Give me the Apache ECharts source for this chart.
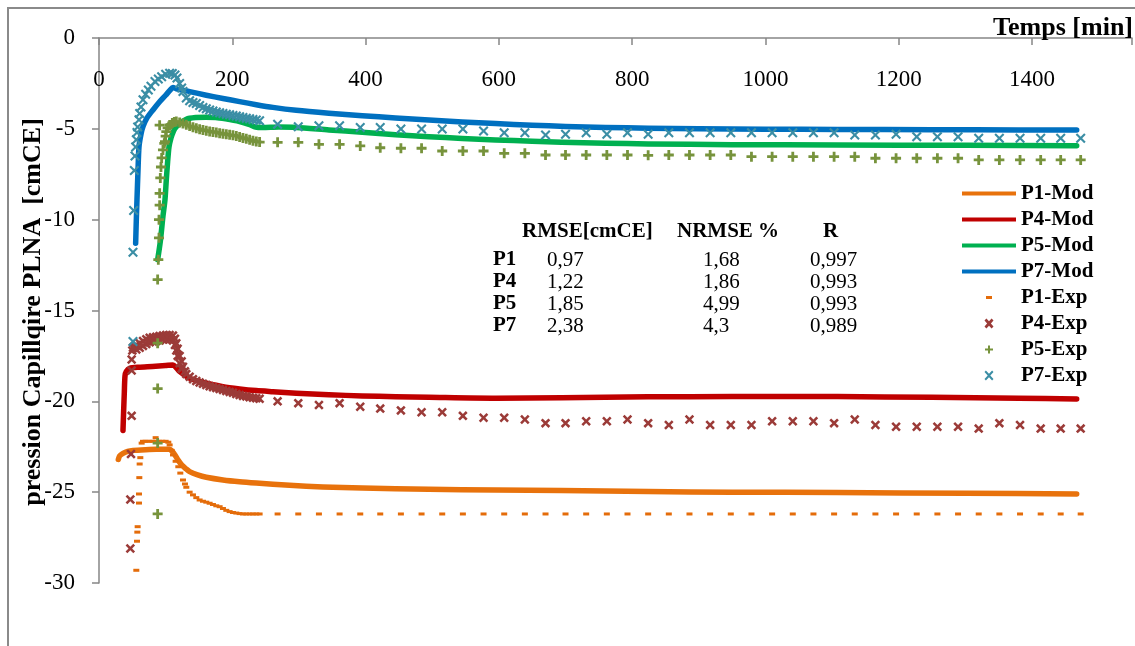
<!DOCTYPE html>
<html><head><meta charset="utf-8">
<script src="https://cdn.jsdelivr.net/npm/echarts@6/dist/echarts.min.js"></script>
<style>html,body{margin:0;padding:0;background:#fff;overflow:hidden}#c{width:1135px;height:646px}</style>
</head><body><div id="c"></div>
<script>
// ---------- data ----------
const xTickLabels = [0, 200, 400, 600, 800, 1000, 1200, 1400];
const yTickLabels = [0, -5, -10, -15, -20, -25, -30];
const seriesNames = ['P1-Mod', 'P4-Mod', 'P5-Mod', 'P7-Mod', 'P1-Exp', 'P4-Exp', 'P5-Exp', 'P7-Exp'];

const p1Mod = [[29,-23.2],[31,-23.0],[36,-22.86],[43,-22.75],[51,-22.7],[70,-22.66],[86,-22.64],[106,-22.64],[110,-22.75],[114,-22.95],[119,-23.25],[124,-23.5],[130,-23.7],[136,-23.87],[148,-24.05],[161,-24.18],[186,-24.33],[211,-24.43],[236,-24.5],[286,-24.62],[336,-24.71],[395,-24.77],[495,-24.84],[595,-24.88],[694,-24.91],[824,-24.97],[950,-25.0],[1108,-25.02],[1300,-25.06],[1467,-25.1]];
const p4Mod = [[36,-21.6],[37,-20.5],[38,-19.5],[39,-18.6],[41,-18.35],[46,-18.18],[60,-18.12],[80,-18.08],[100,-18.03],[111,-18.0],[116,-18.15],[121,-18.36],[128,-18.55],[136,-18.73],[148,-18.88],[161,-19.0],[186,-19.2],[211,-19.32],[236,-19.41],[261,-19.47],[296,-19.55],[345,-19.64],[395,-19.7],[445,-19.75],[495,-19.78],[595,-19.83],[694,-19.8],[824,-19.75],[950,-19.74],[1108,-19.74],[1250,-19.78],[1380,-19.83],[1467,-19.87]];
const p5Mod = [[88,-12.2],[92,-11.2],[96,-9.8],[99,-8.9],[101,-7.8],[103,-6.8],[105,-6.0],[108,-5.5],[111,-5.2],[114,-4.97],[120,-4.75],[131,-4.47],[145,-4.38],[160,-4.36],[175,-4.37],[190,-4.45],[211,-4.6],[225,-4.75],[235,-4.9],[245,-4.93],[270,-4.9],[296,-4.92],[345,-5.06],[395,-5.19],[445,-5.32],[495,-5.43],[545,-5.53],[595,-5.61],[650,-5.68],[694,-5.74],[760,-5.79],[824,-5.83],[950,-5.87],[1108,-5.89],[1300,-5.91],[1467,-5.93]];
const p7Mod = [[55,-11.3],[56,-10.0],[57,-8.9],[58.5,-7.3],[60,-6.0],[63,-5.3],[66,-4.88],[72,-4.4],[81,-3.96],[90,-3.55],[100,-3.15],[106,-2.9],[111,-2.72],[116,-2.8],[136,-2.95],[161,-3.15],[186,-3.33],[211,-3.5],[236,-3.67],[261,-3.82],[296,-3.98],[345,-4.14],[395,-4.28],[445,-4.4],[495,-4.51],[545,-4.62],[595,-4.71],[650,-4.8],[700,-4.87],[760,-4.92],[824,-4.97],[900,-5.0],[1000,-5.02],[1108,-5.03],[1250,-5.05],[1380,-5.06],[1467,-5.06]];

// dense experimental part (start of the test)
const p1ExpDense = [[56,-29.3],[57,-27.7],[57.5,-27.2],[58,-26.9],[60,-25.6],[60,-25.1],[60.5,-24.2],[61,-23.45],[62,-23.1],[64,-22.3],[66,-22.2],[70,-22.2],[75,-22.2],[80,-22.2],[85,-22.0],[85,-22.2],[90,-22.2],[95,-22.2],[100,-22.2],[104,-22.25],[106,-22.4],[109,-22.7],[111,-22.95],[115,-23.3],[119,-23.6],[122,-23.95],[126,-24.33],[129,-24.55],[131,-24.73],[136,-25.0],[141,-25.15],[146,-25.3],[151,-25.43],[156,-25.5],[161,-25.55],[166,-25.61],[171,-25.68],[176,-25.75],[181,-25.8],[186,-25.9],[191,-26.0],[196,-26.07],[201,-26.12],[206,-26.15],[211,-26.18],[216,-26.2],[221,-26.2],[226,-26.2],[231,-26.2],[236,-26.2],[241,-26.2]];
const p4ExpDense = [[47,-28.1],[47,-25.4],[48,-22.9],[49,-20.8],[49,-18.3],[49,-17.7],[50,-17.2],[51,-17.05],[53,-16.98],[56,-16.9],[56,-17.15],[61,-16.8],[61,-17.05],[66,-16.68],[66,-16.95],[71,-16.58],[71,-16.85],[76,-16.5],[76,-16.75],[81,-16.47],[81,-16.7],[86,-16.44],[86,-16.68],[91,-16.4],[91,-16.65],[96,-16.37],[96,-16.6],[101,-16.35],[101,-16.6],[106,-16.35],[106,-16.6],[111,-16.38],[111,-16.65],[114,-16.55],[114,-16.9],[116,-16.8],[116,-17.2],[118,-17.1],[118,-17.5],[121,-17.5],[121,-17.9],[124,-17.8],[124,-18.2],[126,-18.1],[129,-18.35],[131,-18.5],[136,-18.64],[141,-18.78],[146,-18.88],[151,-18.96],[156,-19.03],[161,-19.1],[166,-19.17],[171,-19.22],[176,-19.27],[181,-19.32],[186,-19.37],[191,-19.43],[196,-19.48],[201,-19.53],[206,-19.6],[211,-19.65],[216,-19.7],[221,-19.73],[226,-19.77],[231,-19.8],[236,-19.83],[241,-19.86]];
const p5ExpDense = [[88,-26.2],[88,-22.3],[88,-19.3],[88,-16.8],[88,-13.3],[89,-12.2],[90,-11.0],[90,-10.0],[91,-9.2],[91,-8.55],[91,-4.8],[92,-7.7],[93,-7.1],[94,-6.6],[96,-6.16],[98,-5.8],[99,-5.7],[100,-5.4],[101,-5.15],[103,-4.95],[106,-4.79],[110,-4.68],[113,-4.62],[116,-4.6],[121,-4.65],[126,-4.7],[131,-4.78],[136,-4.85],[141,-4.91],[146,-4.97],[151,-5.02],[156,-5.07],[161,-5.1],[166,-5.14],[171,-5.17],[176,-5.2],[181,-5.24],[186,-5.27],[191,-5.3],[196,-5.33],[201,-5.36],[206,-5.39],[211,-5.45],[216,-5.5],[221,-5.55],[226,-5.6],[231,-5.65],[236,-5.7],[241,-5.73]];
const p7ExpDense = [[51,-16.7],[51,-11.8],[52,-9.5],[53,-7.3],[54,-6.5],[55,-6.0],[56,-5.6],[57,-5.2],[58,-4.9],[60,-4.5],[61,-4.15],[63,-3.8],[66,-3.4],[70,-3.1],[74,-2.86],[78,-2.65],[84,-2.4],[89,-2.25],[94,-2.13],[100,-2.0],[106,-1.94],[110,-1.95],[114,-2.04],[117,-2.2],[121,-2.5],[124,-2.75],[126,-2.95],[131,-3.3],[136,-3.45],[141,-3.55],[146,-3.6],[151,-3.72],[156,-3.82],[161,-3.9],[166,-3.96],[171,-4.02],[176,-4.07],[181,-4.12],[186,-4.15],[191,-4.2],[196,-4.23],[201,-4.27],[206,-4.29],[211,-4.33],[216,-4.38],[221,-4.42],[226,-4.45],[231,-4.48],[236,-4.51],[241,-4.55]];

// sparse experimental part (one reading about every 30 min)
const tSparse = [268,299,330,361,392,422,453,484,515,546,577,608,639,670,700,731,762,793,824,855,886,917,948,979,1010,1041,1072,1103,1134,1165,1196,1227,1258,1289,1320,1351,1382,1413,1443,1473];
const p1ExpSparse = [-26.2,-26.2,-26.2,-26.2,-26.2,-26.2,-26.2,-26.2,-26.2,-26.2,-26.2,-26.2,-26.2,-26.2,-26.2,-26.2,-26.2,-26.2,-26.2,-26.2,-26.2,-26.2,-26.2,-26.2,-26.2,-26.2,-26.2,-26.2,-26.2,-26.2,-26.2,-26.2,-26.2,-26.2,-26.2,-26.2,-26.2,-26.2,-26.2,-26.2];
const p4ExpSparse = [-20.0,-20.1,-20.2,-20.1,-20.3,-20.4,-20.5,-20.6,-20.6,-20.8,-20.9,-20.9,-21.0,-21.2,-21.2,-21.1,-21.1,-21.0,-21.2,-21.3,-21.0,-21.3,-21.3,-21.3,-21.1,-21.1,-21.1,-21.2,-21.0,-21.3,-21.4,-21.4,-21.4,-21.4,-21.5,-21.2,-21.3,-21.5,-21.5,-21.5];
const p5ExpSparse = [-5.74,-5.74,-5.85,-5.85,-5.94,-6.04,-6.07,-6.07,-6.22,-6.22,-6.22,-6.35,-6.35,-6.44,-6.44,-6.44,-6.44,-6.44,-6.46,-6.44,-6.44,-6.44,-6.44,-6.53,-6.53,-6.53,-6.53,-6.53,-6.53,-6.62,-6.62,-6.62,-6.62,-6.62,-6.71,-6.71,-6.71,-6.71,-6.71,-6.71];
const p7ExpSparse = [-4.75,-4.88,-4.83,-4.83,-4.92,-4.92,-5.01,-5.01,-5.01,-5.01,-5.12,-5.21,-5.21,-5.34,-5.30,-5.21,-5.30,-5.21,-5.30,-5.21,-5.21,-5.21,-5.21,-5.21,-5.21,-5.21,-5.21,-5.21,-5.34,-5.34,-5.30,-5.43,-5.43,-5.43,-5.52,-5.52,-5.52,-5.52,-5.52,-5.52];

// statistics table
const tableHeader = ['RMSE[cmCE]', 'NRMSE %', 'R'];
const tableRows = ['P1', 'P4', 'P5', 'P7'];
const rmseVals = ['0,97', '1,22', '1,85', '2,38'];
const nrmseVals = ['1,68', '1,86', '4,99', '4,3'];
const rVals = ['0,997', '0,993', '0,993', '0,989'];

// ---------- chart ----------
const SERIF = "'Liberation Serif','Times New Roman',Times,serif";
const colors = {
  'P1-Mod': '#E8720C', 'P4-Mod': '#C00000', 'P5-Mod': '#00B050', 'P7-Mod': '#0070C0',
  'P1-Exp': '#E46C0A', 'P4-Exp': '#9B3B38', 'P5-Exp': '#77933C', 'P7-Exp': '#3B8EA5'
};
const PLUS = 'path://M3.6,0H6.4V3.6H10V6.4H6.4V10H3.6V6.4H0V3.6H3.6Z';
const CROSS = 'path://M0,1.5L1.5,0L5,3.5L8.5,0L10,1.5L6.5,5L10,8.5L8.5,10L5,6.5L1.5,10L0,8.5L3.5,5Z';
const CROSS_B = 'path://M0,1.9L1.9,0L5,3.1L8.1,0L10,1.9L6.9,5L10,8.1L8.1,10L5,6.9L1.9,10L0,8.1L3.1,5Z';

const join = (dense, vals) => dense.concat(tSparse.map((t, i) => [t, vals[i]]));

const lineSeries = (name, data) => ({
  type: 'line', name, data, symbol: 'none', showSymbol: false, smooth: 0.25,
  lineStyle: { width: 5.5, color: colors[name], cap: 'round', join: 'round' },
  itemStyle: { color: colors[name] }, z: 2, animation: false, silent: true
});
const scatterSeries = (name, data, symbol, size) => ({
  type: 'scatter', name, data, symbol, symbolSize: size,
  itemStyle: { color: colors[name], opacity: 1 }, z: 3, animation: false, silent: true
});

const legendIcons = {
  'P1-Mod': 'path://M0,0H54V4H0Z', 'P4-Mod': 'path://M0,0H54V4H0Z',
  'P5-Mod': 'path://M0,0H54V4H0Z', 'P7-Mod': 'path://M0,0H54V4H0Z',
  'P1-Exp': 'path://M0,0M54,10M24,3.5H30V6.5H24Z',
  'P4-Exp': 'path://M0,0M54,10M22.5,1.9L24.4,0L27,2.8L29.6,0L31.5,1.9L28.9,5L31.5,8.1L29.6,10L27,7.2L24.4,10L22.5,8.1L25.1,5Z',
  'P5-Exp': 'path://M0,0M54,10M26,1H28V4H31V6H28V9H26V6H23V4H26Z',
  'P7-Exp': 'path://M0,0M54,10M22.5,1.4L23.9,0L27,3.3L30.1,0L31.5,1.4L28.3,5L31.5,8.6L30.1,10L27,6.7L23.9,10L22.5,8.6L25.7,5Z'
};

const graphics = [
  { type: 'rect', shape: { x: 8, y: 8, width: 1200, height: 700 }, style: { fill: 'none', stroke: '#8a8a8a', lineWidth: 2 }, z: -1, silent: true },
  { type: 'text', x: 1133, y: 28.5, style: { text: 'Temps [min]', font: 'bold 26px ' + SERIF, fill: '#000', align: 'right', verticalAlign: 'middle' }, z: 10 },
  { type: 'text', x: 33, y: 312, rotation: Math.PI / 2, style: { text: 'pression Capillqire PLNA  [cmCE]', font: 'bold 26px ' + SERIF, fill: '#000', align: 'center', verticalAlign: 'middle' }, z: 10 }
];
const hdrX = [522, 677, 823];
tableHeader.forEach((h, i) => graphics.push({ type: 'text', x: hdrX[i], y: 232, style: { text: h, font: 'bold 21px ' + SERIF, fill: '#000', align: 'left', verticalAlign: 'middle' }, z: 10 }));
const rowY = [260, 282, 304, 326];
tableRows.forEach((r, i) => {
  graphics.push({ type: 'text', x: 493, y: rowY[i], style: { text: r, font: 'bold 21px ' + SERIF, fill: '#000', align: 'left', verticalAlign: 'middle' }, z: 10 });
  [[547, rmseVals[i]], [703, nrmseVals[i]], [810, rVals[i]]].forEach(([x, t]) =>
    graphics.push({ type: 'text', x, y: rowY[i], style: { text: t, font: '21px ' + SERIF, fill: '#000', align: 'left', verticalAlign: 'middle' }, z: 10 }));
});

const chart = echarts.init(document.getElementById('c'), null, { renderer: 'canvas' });
chart.setOption({
  backgroundColor: '#fff',
  animation: false,
  grid: { left: 99, right: 0, top: 38, bottom: 63, containLabel: false },
  xAxis: {
    type: 'value', position: 'top', min: 0, max: 1550, interval: 200,
    axisLine: { show: true, onZero: false, lineStyle: { color: '#868686', width: 1.5 } },
    axisTick: { show: true, inside: true, length: 7, lineStyle: { color: '#868686', width: 1.5 } },
    axisLabel: { inside: true, margin: 30, color: '#000', fontFamily: SERIF, fontSize: 23,
      formatter: v => (xTickLabels.indexOf(v) >= 0 ? String(v) : '') },
    splitLine: { show: false }
  },
  yAxis: {
    type: 'value', min: -30, max: 0, interval: 5,
    axisLine: { show: true, onZero: false, lineStyle: { color: '#868686', width: 1.5 } },
    axisTick: { show: true, inside: false, length: 7, lineStyle: { color: '#868686', width: 1.5 } },
    axisLabel: { margin: 24, color: '#000', fontFamily: SERIF, fontSize: 23,
      formatter: v => (yTickLabels.indexOf(v) >= 0 ? String(v) : '') },
    splitLine: { show: false }
  },
  legend: {
    orient: 'vertical', left: 962, top: 183, itemWidth: 54, itemHeight: 10, itemGap: 5,
    padding: 0, selectedMode: false,
    textStyle: { fontFamily: SERIF, fontSize: 21, fontWeight: 'bold', color: '#000' },
    data: seriesNames.map(n => ({ name: n, icon: legendIcons[n], itemStyle: { color: colors[n] } }))
  },
  graphic: graphics,
  series: [
    lineSeries('P1-Mod', p1Mod),
    lineSeries('P4-Mod', p4Mod),
    lineSeries('P5-Mod', p5Mod),
    lineSeries('P7-Mod', p7Mod),
    scatterSeries('P1-Exp', join(p1ExpDense, p1ExpSparse), 'rect', [6, 3]),
    scatterSeries('P4-Exp', join(p4ExpDense, p4ExpSparse), CROSS_B, 9.5),
    scatterSeries('P5-Exp', join(p5ExpDense, p5ExpSparse), PLUS, 10),
    scatterSeries('P7-Exp', join(p7ExpDense, p7ExpSparse), CROSS, 10)
  ]
});
</script></body></html>
